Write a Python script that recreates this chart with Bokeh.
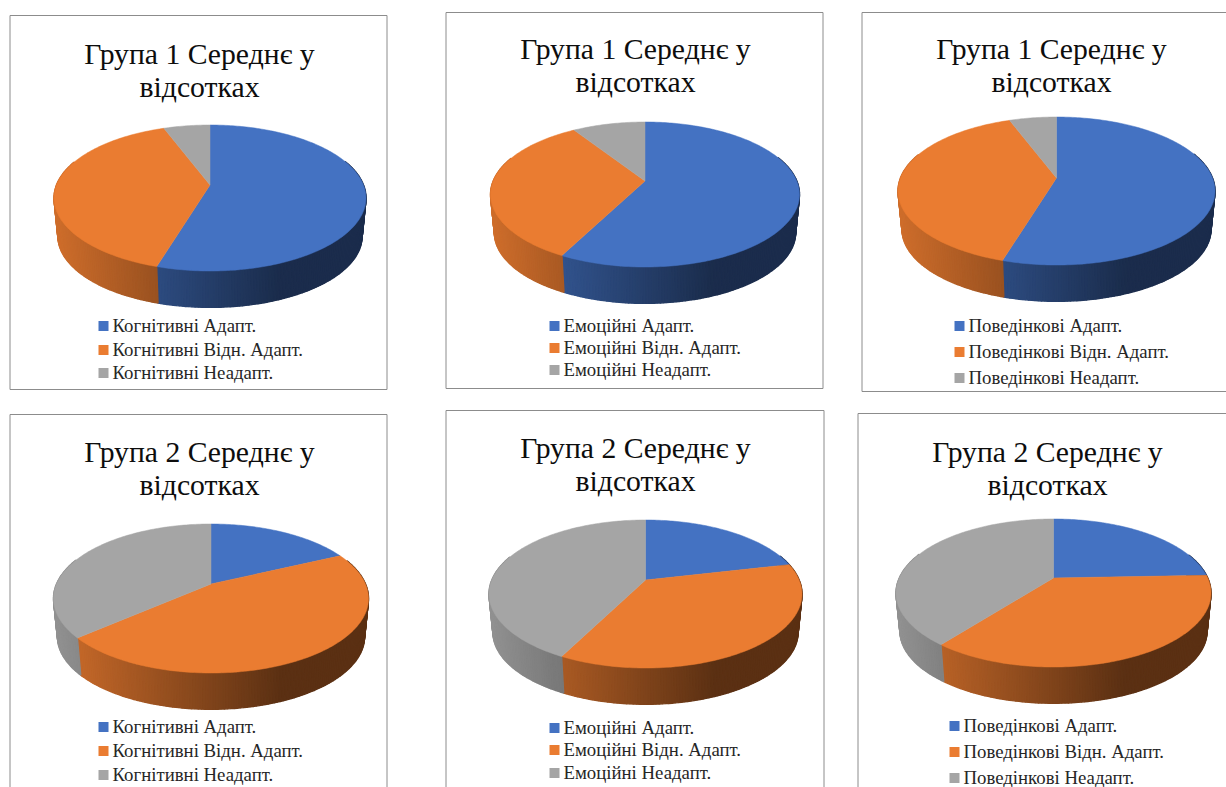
import math
from bokeh.plotting import figure
from bokeh.embed import file_html
from bokeh.resources import INLINE
from bokeh.core.properties import value
from bokeh.models import Range1d

# ---- data (percent of each pie) ----
kog_g1 = [54.65, 39.65, 5.7]
emo_g1 = [57.55, 33.35, 9.1]
pov_g1 = [54.65, 39.65, 5.7]
kog_g2 = [18.0, 45.6, 36.4]
emo_g2 = [21.4, 36.1, 42.5]
pov_g2 = [24.4, 36.1, 39.5]
title_g1 = ["Група 1 Середнє у", "відсотках"]
title_g2 = ["Група 2 Середнє у", "відсотках"]
kog_labels = ["Когнітивні Адапт.", "Когнітивні Відн. Адапт.", "Когнітивні Неадапт."]
emo_labels = ["Емоційні Адапт.", "Емоційні Відн. Адапт.", "Емоційні Неадапт."]
pov_labels = ["Поведінкові Адапт.", "Поведінкові Відн. Адапт.", "Поведінкові Неадапт."]

COLORS = [(0x44, 0x72, 0xC2), (0xEA, 0x7C, 0x31), (0xA5, 0xA5, 0xA5)]
FONT = value("Liberation Serif")

# frame (l, t, r, b); pie apex x, y, half width, up, down; title centre & ys; legend x, ys
panels = [
    dict(v=kog_g1, t=title_g1, l=kog_labels, fr=(10.5, 15.5, 387.5, 389.5), ax=210.5, ay=185, hw=156, up=60, dn=86, tx=200, ty=(55, 88), lx=99, ly=(326, 350, 373)),
    dict(v=emo_g1, t=title_g1, l=emo_labels, fr=(446.5, 12.5, 823.5, 388.5), ax=645.5, ay=181, hw=154.5, up=59, dn=86, tx=636, ty=(50, 83), lx=550, ly=(326, 348, 370)),
    dict(v=pov_g1, t=title_g1, l=pov_labels, fr=(862.5, 12.5, 1230, 391.5), ax=1057, ay=178, hw=158.5, up=61, dn=87, tx=1052, ty=(50, 83), lx=955, ly=(326, 352, 378)),
    dict(v=kog_g2, t=title_g2, l=kog_labels, fr=(10.5, 414.5, 387.5, 795), ax=211.5, ay=584, hw=157.5, up=60, dn=89, tx=200, ty=(453, 486), lx=99, ly=(727, 751, 775)),
    dict(v=emo_g2, t=title_g2, l=emo_labels, fr=(446.5, 410.5, 824.5, 795), ax=646, ay=580, hw=156.5, up=60, dn=88, tx=636, ty=(449, 482), lx=550, ly=(728, 750, 773)),
    dict(v=pov_g2, t=title_g2, l=pov_labels, fr=(858.5, 413.5, 1230, 795), ax=1054, ay=578, hw=157.5, up=59, dn=89, tx=1048, ty=(453, 486), lx=950, ly=(726, 752, 778)),
]

W, H = 1226, 787
p = figure(width=W, height=H, x_range=Range1d(1, W + 1), y_range=Range1d(H + 0.5, 0.5),
           output_backend="svg", toolbar_location=None, min_border=0,
           outline_line_color=None, background_fill_color="white", border_fill_color="white")
p.xaxis.visible = False
p.yaxis.visible = False
p.xgrid.visible = False
p.ygrid.visible = False


def hexc(c):
    return "#%02x%02x%02x" % tuple(max(0, min(255, int(round(a)))) for a in c)


def shade(t):
    return 0.88 - (0.88 - 0.39) * min(1.0, t / 0.72)


for pn in panels:
    l, t, r, b = pn["fr"]
    p.multi_line([[l, r], [l, r], [l, l], [r, r]], [[t, t], [b, b], [t, b], [t, b]],
                 line_color="#8c8c8c", line_width=1)

    k = (pn["dn"] - pn["up"]) / (pn["dn"] + pn["up"])
    B = pn["up"] * (1 + k)
    R = pn["hw"] * math.sqrt(1 - k * k)
    ax, ay = pn["ax"], pn["ay"]

    def proj(a):
        x, y = math.sin(a), math.cos(a)
        d = 1 + k * y
        return R * x / d, -B * y / d

    depth = 38.5
    shrink = 0.975
    total = sum(pn["v"])
    start = 0.0
    tops = []
    seg = []
    for val, col in zip(pn["v"], COLORS):
        sweep = val / total * 2 * math.pi
        n = max(2, int(math.degrees(sweep) / 1.0))
        angs = [start + sweep * i / n for i in range(n + 1)]
        tx_ = [ax]
        ty_ = [ay]
        for a in angs:
            sx, sy = proj(a)
            tx_.append(ax + sx)
            ty_.append(ay + sy)
        tops.append((tx_, ty_, hexc(col)))
        for a0, a1 in zip(angs[:-1], angs[1:]):
            if math.cos((a0 + a1) / 2) > 0.35:
                continue
            s0x, s0y = proj(a0)
            s1x, s1y = proj(a1)
            xs = [ax + s0x, ax + s1x, ax + shrink * s1x, ax + shrink * s0x]
            ys = [ay + s0y, ay + s1y, ay + shrink * s1y + depth, ay + shrink * s0y + depth]
            tt = ((s0x + s1x) / 2 + pn["hw"]) / (2 * pn["hw"])
            f = shade(tt)
            seg.append((xs, ys, hexc([c * f for c in col])))
        start += sweep
    p.patches([s[0] for s in seg], [s[1] for s in seg], fill_color=[s[2] for s in seg],
              line_color=[s[2] for s in seg], line_width=1.4)
    for tx_, ty_, c in tops:
        p.patch(tx_, ty_, fill_color=c, line_color=c, line_width=0.5)

    p.text([pn["tx"]] * 2, [y - 1 for y in pn["ty"]], text=pn["t"], text_font=FONT, text_font_size="29.7px",
           text_align="center", text_baseline="middle", text_color="#0d0d0d")
    p.rect([pn["lx"] + 5] * 3, list(pn["ly"]), width=10, height=10,
           fill_color=[hexc(c) for c in COLORS], line_color=None)
    p.text([pn["lx"] + 14] * 3, [y - 0.5 for y in pn["ly"]], text=pn["l"], text_font=FONT, text_font_size="18.8px",
           text_align="left", text_baseline="middle", text_color="#262626")

open("out.html", "w").write(file_html(p, INLINE))
